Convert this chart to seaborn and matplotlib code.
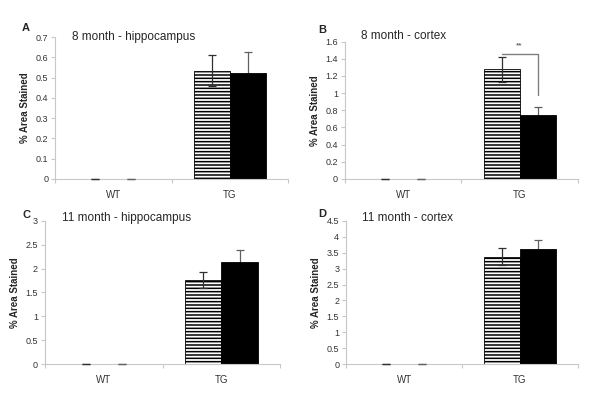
import matplotlib
matplotlib.use("Agg")
import matplotlib.pyplot as plt
import seaborn as sns
import pandas as pd

genotypes = ["WT", "TG"]
groups = ["hatched", "solid"]

titles = ["8 month - hippocampus", "8 month - cortex",
          "11 month - hippocampus", "11 month - cortex"]
letters = ["A", "B", "C", "D"]

# values per panel: [WT, TG]
hatched_vals = [[0.0, 0.535], [0.0, 1.28], [0.0, 1.76], [0.0, 3.37]]
solid_vals = [[0.0, 0.525], [0.0, 0.75], [0.0, 2.15], [0.0, 3.63]]
hatched_err = [[0.0, 0.075], [0.0, 0.145], [0.0, 0.16], [0.0, 0.27]]
solid_err = [[0.0, 0.10], [0.0, 0.09], [0.0, 0.24], [0.0, 0.28]]

y_max = [0.7, 1.6, 3.0, 4.5]
y_step = [0.1, 0.2, 0.5, 0.5]

sns.set_style("white")
plt.rcParams["font.family"] = ["Liberation Sans", "DejaVu Sans"]
plt.rcParams["hatch.linewidth"] = 1.1

fig = plt.figure(figsize=(6.0, 4.04), dpi=100)

# axes rectangles (left, bottom, width, height) in figure fraction
rects = [
    (0.092, 0.557, 0.388, 0.351),
    (0.575, 0.557, 0.388, 0.340),
    (0.075, 0.099, 0.392, 0.354),
    (0.577, 0.099, 0.386, 0.354),
]
letter_pos = [(0.037, 0.93), (0.530, 0.926), (0.037, 0.468), (0.530, 0.470)]
title_pos = [(0.12, 0.908), (0.602, 0.911), (0.103, 0.46), (0.603, 0.46)]

for i in range(4):
    ax = fig.add_axes(rects[i])
    df = pd.DataFrame({
        "genotype": genotypes * 2,
        "group": [groups[0]] * 2 + [groups[1]] * 2,
        "value": hatched_vals[i] + solid_vals[i],
    })
    sns.barplot(data=df, x="genotype", y="value", hue="group",
                palette=["white", "black"], edgecolor="black", linewidth=0.6,
                width=0.62, errorbar=None, legend=False, ax=ax)

    errs = [hatched_err[i], solid_err[i]]
    bars = list(ax.containers)
    for k, cont in enumerate(bars):
        for j, p in enumerate(cont.patches):
            if k == 0:
                p.set_hatch("-----")
            if p.get_height() == 0:
                p.set_linewidth(0)
            cx = p.get_x() + p.get_width() / 2
            # solid bar's error bar sits behind the bar, so only the upper half shows
            behind = k == 1 and p.get_height() > 0
            ax.errorbar(cx, p.get_height(), yerr=errs[k][j], fmt="none",
                        ecolor="#303030" if k == 0 else "#606060",
                        elinewidth=0.9, capsize=3, capthick=0.9,
                        zorder=0.5 if behind else 5, clip_on=False)

    if i == 1:
        tg = [bars[0].patches[1], bars[1].patches[1]]
        x0 = tg[0].get_x() + tg[0].get_width() / 2
        x1 = tg[1].get_x() + tg[1].get_width() / 2
        ax.plot([x0, x1, x1], [1.45, 1.45, 0.98], color="#808080", lw=1.0,
                clip_on=False)
        ax.text((x0 + x1) / 2, 1.55, "**", ha="center", va="center",
                fontsize=6, color="#333333")

    ax.set_ylim(0, y_max[i])
    ax.set_xlim(-0.5, 1.5)
    n = int(round(y_max[i] / y_step[i]))
    yt = [round(y_step[i] * t, 2) for t in range(n + 1)]
    ax.set_yticks(yt)
    ax.set_yticklabels([f"{v:g}" for v in yt], fontsize=6.5, color="#333333")
    ax.set_xticks([0, 1])
    ax.set_xticklabels(genotypes, fontsize=7, color="#333333")
    ax.set_xticks([-0.5, 0.5, 1.5], minor=True)
    ax.tick_params(axis="x", which="major", length=0, pad=8)
    ax.tick_params(axis="x", which="minor", length=3, color="#c8c8c8", width=0.8,
                   direction="out", bottom=True)
    ax.tick_params(axis="y", length=3, color="#c8c8c8", width=0.8,
                   direction="out", left=True, pad=2)
    ax.set_xlabel("")
    ax.set_ylabel("% Area Stained", fontsize=7, fontweight="bold", labelpad=4)
    for s in ["top", "right"]:
        ax.spines[s].set_visible(False)
    for s in ["left", "bottom"]:
        ax.spines[s].set_color("#c8c8c8")
        ax.spines[s].set_linewidth(0.8)

    fig.text(letter_pos[i][0], letter_pos[i][1], letters[i], fontsize=8,
             fontweight="bold", va="center")
    fig.text(title_pos[i][0], title_pos[i][1], titles[i], fontsize=8.5,
             va="center")

fig.savefig("out.png", dpi=100)
